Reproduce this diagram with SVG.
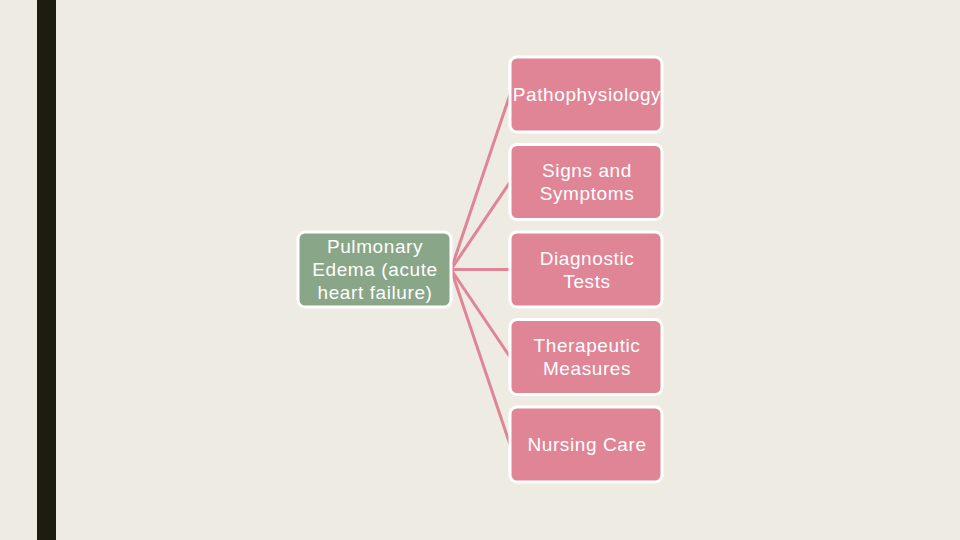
<svg xmlns="http://www.w3.org/2000/svg" width="960" height="540" viewBox="0 0 960 540">
<style>
.pink{fill:#E08596;stroke:#FFFFFF;stroke-width:3}
.green{fill:#8AA688;stroke:#FFFFFF;stroke-width:3}
.t{font-family:"Liberation Sans",Arial,sans-serif;font-size:19px;letter-spacing:0.6px;fill:#FFFFFF;text-anchor:middle}
.c{stroke:#E08596;stroke-width:3;fill:none}
</style>
<rect x="0" y="0" width="960" height="540" fill="#EEEBE3"/>
<rect x="37" y="0" width="19" height="540" fill="#1C1D10"/>
<g id="connectors">
<line class="c" x1="451" y1="269.5" x2="510" y2="94.5"/>
<line class="c" x1="451" y1="269.5" x2="510" y2="182"/>
<line class="c" x1="451" y1="269.5" x2="510" y2="269.5"/>
<line class="c" x1="451" y1="269.5" x2="510" y2="357"/>
<line class="c" x1="451" y1="269.5" x2="510" y2="444.5"/>
</g>
<g id="root">
<rect class="green" x="298" y="232" width="153" height="75" rx="7"/>
<text class="t" x="375" y="253">Pulmonary</text>
<text class="t" x="375" y="276">Edema (acute</text>
<text class="t" x="375" y="299">heart failure)</text>
</g>
<g id="n1">
<rect class="pink" x="510" y="57" width="152" height="75" rx="7"/>
<text class="t" x="587" y="101">Pathophysiology</text>
</g>
<g id="n2">
<rect class="pink" x="510" y="144.5" width="152" height="75" rx="7"/>
<text class="t" x="587" y="177">Signs and</text>
<text class="t" x="587" y="200">Symptoms</text>
</g>
<g id="n3">
<rect class="pink" x="510" y="232" width="152" height="75" rx="7"/>
<text class="t" x="587" y="264.5">Diagnostic</text>
<text class="t" x="587" y="287.5">Tests</text>
</g>
<g id="n4">
<rect class="pink" x="510" y="319.5" width="152" height="75" rx="7"/>
<text class="t" x="587" y="352">Therapeutic</text>
<text class="t" x="587" y="375">Measures</text>
</g>
<g id="n5">
<rect class="pink" x="510" y="407" width="152" height="75" rx="7"/>
<text class="t" x="587" y="451">Nursing Care</text>
</g>
</svg>
